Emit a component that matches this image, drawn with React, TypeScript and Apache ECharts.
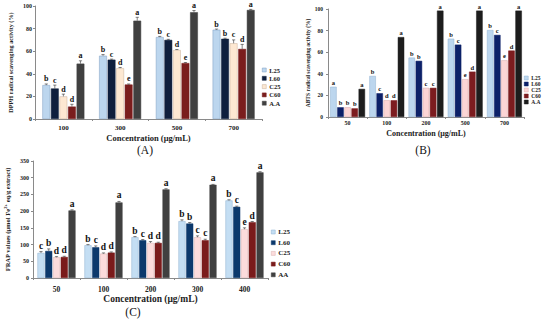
import React, { useEffect, useRef } from 'react';
import * as echarts from 'echarts';

const FONT = "'Liberation Serif', 'Times New Roman', serif";

// ---------- Panel A : DPPH ----------
const dpphCategories = ['100', '300', '500', '700'];
const dpphNames = ['L25', 'L60', 'C25', 'C60', 'A.A'];
const dpphL25 = [30, 56, 72.5, 79];
const dpphL60 = [27, 52.5, 70, 71];
const dpphC25 = [20, 45, 61, 67];
const dpphC60 = [11, 30.5, 49.5, 62];
const dpphAA = [49, 87, 94.5, 96.5];
const dpphErrL25 = [1, 1, 0.6, 0.6];
const dpphErrL60 = [3, 0.5, 0.5, 0.5];
const dpphErrC25 = [2, 0.6, 0.5, 3];
const dpphErrC60 = [2, 0.5, 0.5, 4];
const dpphErrAA = [2.5, 3, 1.5, 0.5];
const dpphLetL25 = ['b', 'b', 'b', 'b'];
const dpphLetL60 = ['c', 'c', 'c', 'b'];
const dpphLetC25 = ['d', 'd', 'd', 'c'];
const dpphLetC60 = ['d', 'e', 'e', 'd'];
const dpphLetAA = ['a', 'a', 'a', 'a'];

// ---------- Panel B : ABTS ----------
const abtsCategories = ['50', '100', '200', '500', '700'];
const abtsNames = ['L25', 'L60', 'C25', 'C60', 'A.A'];
const abtsL25 = [28, 38, 55, 72.5, 80.5];
const abtsL60 = [9, 22, 52, 67, 76];
const abtsC25 = [9, 15.5, 27, 35, 52.5];
const abtsC60 = [8, 15.5, 27, 42, 61.5];
const abtsAA = [26, 74, 98.5, 98.5, 98.5];
const abtsErr = [0, 0, 0, 0, 0];
const abtsLetL25 = ['a', 'b', 'b', 'b', 'b'];
const abtsLetL60 = ['b', 'c', 'b', 'c', 'c'];
const abtsLetC25 = ['b', 'd', 'c', 'e', 'e'];
const abtsLetC60 = ['b', 'd', 'c', 'd', 'd'];
const abtsLetAA = ['a', 'a', 'a', 'a', 'a'];

// ---------- Panel C : FRAP ----------
const frapCategories = ['50', '100', '200', '300', '400'];
const frapNames = ['L25', 'L60', 'C25', 'C60', 'AA'];
const frapL25 = [75, 98, 122, 170, 232];
const frapL60 = [81, 92, 113, 163, 213];
const frapC25 = [62, 73, 105, 122, 146];
const frapC60 = [63, 76, 105, 113, 167];
const frapAA = [202, 226, 265, 279, 316];
const frapErrL25 = [4, 2, 2, 4, 2];
const frapErrL60 = [6, 4, 2, 3, 2];
const frapErrC25 = [2, 2, 4, 4, 4];
const frapErrC60 = [2, 2, 2, 3, 2];
const frapErrAA = [2, 3, 2, 1, 2];
const frapLetL25 = ['c', 'b', 'b', 'b', 'b'];
const frapLetL60 = ['b', 'c', 'c', 'b', 'c'];
const frapLetC25 = ['d', 'd', 'd', 'c', 'e'];
const frapLetC60 = ['d', 'd', 'd', 'c', 'd'];
const frapLetAA = ['a', 'a', 'a', 'a', 'a'];

// styles
const colorsA = ['#bcd6ee', '#0f1f3d', '#fde8d2', '#7a1d1d', '#404040'];
const colorsB = ['#bcd6ee', '#0c2068', '#fbd5d5', '#7c1c1f', '#1d1d1d'];
const colorsC = ['#c4def3', '#0c396c', '#fcdcdc', '#7a1b1b', '#404040'];
const bordersA = ['#7f9fc0', '#0f1f3d', '#c8b09a', '#7a1d1d', '#404040'];
const bordersB = ['#8fb0d0', '#0c2068', '#d8a8a8', '#7c1c1f', '#1d1d1d'];
const bordersC = ['#8fb0d0', '#0c396c', '#d8b0b0', '#7a1b1b', '#404040'];

const BAR_GAP = 0.1;

function buildSeries(
  grid: number,
  names: string[],
  values: number[][],
  errors: number[][],
  letters: string[][],
  colors: string[],
  borders: string[],
  gapFrac: number,
  letterSize: number
) {
  const out: any[] = [];
  const n = names.length;
  values.forEach((vals, k) => {
    out.push({
      type: 'bar',
      name: names[k],
      xAxisIndex: grid,
      yAxisIndex: grid,
      data: vals,
      barCategoryGap: gapFrac * 100 + '%',
      barGap: BAR_GAP * 100 + '%',
      itemStyle: { color: colors[k], borderColor: borders[k], borderWidth: 0.5 },
      z: 2,
    });
  });
  values.forEach((vals, k) => {
    const err = errors[k];
    const lets = letters[k];
    out.push({
      type: 'custom',
      xAxisIndex: grid,
      yAxisIndex: grid,
      silent: true,
      z: 5,
      encode: { x: 0, y: 1 },
      data: vals.map((v, i) => [i, v]),
      renderItem: (params: any, api: any) => {
        const i = api.value(0);
        const v = api.value(1);
        const e = err[i] || 0;
        const base = api.coord([i, 0]);
        const cw = api.size([1, 0])[0];
        const usable = cw * (1 - gapFrac);
        const bw = usable / (n + (n - 1) * BAR_GAP);
        const x = base[0] - usable / 2 + k * bw * (1 + BAR_GAP) + bw / 2;
        const yTop = api.coord([i, v])[1];
        const yErr = api.coord([i, v + e])[1];
        const children: any[] = [];
        if (e > 0) {
          children.push({
            type: 'line',
            shape: { x1: x, y1: yTop, x2: x, y2: yErr },
            style: { stroke: '#333', lineWidth: 0.6 },
          });
          children.push({
            type: 'line',
            shape: { x1: x - 1.6, y1: yErr, x2: x + 1.6, y2: yErr },
            style: { stroke: '#333', lineWidth: 0.6 },
          });
        }
        children.push({
          type: 'text',
          x,
          y: yErr - 1,
          style: {
            text: lets[i],
            align: 'center',
            verticalAlign: 'bottom',
            fontSize: letterSize,
            fontWeight: 'bold',
            fontFamily: FONT,
            fill: '#111',
          },
        });
        return { type: 'group', children };
      },
    });
  });
  return out;
}

function legendFor(names: string[], colors: string[], borders: string[], left: number, top: number, fontSize: number, lineHeight: number, gap: number) {
  return {
    orient: 'vertical',
    left,
    top,
    padding: 0,
    itemGap: gap,
    itemWidth: 4,
    itemHeight: 4,
    icon: 'rect',
    selectedMode: false,
    data: names.map((nm, i) => ({
      name: nm,
      itemStyle: { color: colors[i], borderColor: borders[i], borderWidth: 0.5 },
    })),
    textStyle: { fontSize, lineHeight, fontWeight: 'bold', fontFamily: FONT, color: '#222', padding: [0, 0, 0, -2] },
  };
}

const axisLineStyle = { show: true, lineStyle: { color: '#8a8a8a', width: 1 } };

function xAxisFor(grid: number, cats: string[], labelSize: number, labelMargin: number, nameSize: number, nameGap: number) {
  return {
    gridIndex: grid,
    type: 'category',
    data: cats,
    name: 'Concentration (μg/mL)',
    nameLocation: 'middle',
    nameGap,
    nameTextStyle: { fontSize: nameSize, fontWeight: 'bold', fontFamily: FONT, color: '#222' },
    axisLine: axisLineStyle,
    axisTick: { show: true, length: 2, lineStyle: { color: '#8a8a8a' } },
    axisLabel: { fontSize: labelSize, margin: labelMargin, fontWeight: 'bold', fontFamily: FONT, color: '#222' },
    splitLine: { show: false },
  };
}

function yAxisFor(grid: number, max: number, interval: number, name: string, nameSize: number, nameGap: number, labelSize: number, labelMargin: number, rich?: any) {
  return {
    gridIndex: grid,
    type: 'value',
    min: 0,
    max,
    interval,
    name,
    nameLocation: 'middle',
    nameGap,
    nameTextStyle: { fontSize: nameSize, fontWeight: 'bold', fontFamily: FONT, color: '#222', rich },
    axisLine: axisLineStyle,
    axisTick: { show: true, length: 2, lineStyle: { color: '#8a8a8a' } },
    axisLabel: { fontSize: labelSize, margin: labelMargin, fontWeight: 'bold', fontFamily: FONT, color: '#222' },
    splitLine: { show: false },
  };
}

export default function App() {
  const ref = useRef<HTMLDivElement>(null);
  useEffect(() => {
    if (!ref.current) return;
    const chart = echarts.init(ref.current, undefined, { renderer: 'svg' });
    const series = [
      ...buildSeries(
        0,
        dpphNames,
        [dpphL25, dpphL60, dpphC25, dpphC60, dpphAA],
        [dpphErrL25, dpphErrL60, dpphErrC25, dpphErrC60, dpphErrAA],
        [dpphLetL25, dpphLetL60, dpphLetC25, dpphLetC60, dpphLetAA],
        colorsA,
        bordersA,
        0.26,
        8
      ),
      ...buildSeries(
        1,
        abtsNames,
        [abtsL25, abtsL60, abtsC25, abtsC60, abtsAA],
        [abtsErr, abtsErr, abtsErr, abtsErr, abtsErr],
        [abtsLetL25, abtsLetL60, abtsLetC25, abtsLetC60, abtsLetAA],
        colorsB,
        bordersB,
        0.11,
        6.5
      ),
      ...buildSeries(
        2,
        frapNames,
        [frapL25, frapL60, frapC25, frapC60, frapAA],
        [frapErrL25, frapErrL60, frapErrC25, frapErrC60, frapErrAA],
        [frapLetL25, frapLetL60, frapLetC25, frapLetC60, frapLetAA],
        colorsC,
        bordersC,
        0.19,
        9.5
      ),
    ];
    chart.setOption({
      animation: false,
      backgroundColor: '#ffffff',
      textStyle: { fontFamily: FONT },
      grid: [
        { left: 35, top: 6, width: 227, height: 113 },
        { left: 328, top: 9, width: 196, height: 108 },
        { left: 33, top: 161, width: 235, height: 117 },
      ],
      xAxis: [
        xAxisFor(0, dpphCategories, 7, 5, 8.5, 14),
        xAxisFor(1, abtsCategories, 6, 3, 8, 12),
        xAxisFor(2, frapCategories, 7.5, 7, 9.5, 13),
      ],
      yAxis: [
        yAxisFor(0, 100, 20, 'DPPH radical scavenging activity (%)', 6.2, 22, 6, 3),
        yAxisFor(1, 100, 20, 'ABTS radical scavenging activity (%)', 5.5, 17, 5.5, 5),
        yAxisFor(2, 350, 50, 'FRAP values (μmol Fe{sup|2+} eq/g extract)', 6.5, 22, 6, 4, {
          sup: { fontSize: 4.5, fontWeight: 'bold', fontFamily: FONT, color: '#222', verticalAlign: 'top', padding: [0, 0, 3, 0] },
        }),
      ],
      legend: [
        legendFor(dpphNames, colorsA, bordersA, 262, 66, 6.5, 8, 0.3),
        legendFor(abtsNames, colorsB, bordersB, 524, 75, 5.5, 6, 0),
        legendFor(frapNames, colorsC, bordersC, 271, 227, 7, 10, 0.7),
      ],
      graphic: [
        { type: 'text', x: 145, y: 150, style: { text: '(A)', fontSize: 11.5, fontFamily: FONT, fill: '#111', align: 'center', verticalAlign: 'middle' } },
        { type: 'text', x: 423, y: 150, style: { text: '(B)', fontSize: 11.5, fontFamily: FONT, fill: '#111', align: 'center', verticalAlign: 'middle' } },
        { type: 'text', x: 133, y: 312, style: { text: '(C)', fontSize: 11.5, fontFamily: FONT, fill: '#111', align: 'center', verticalAlign: 'middle' } },
      ],
      series,
    });
    return () => chart.dispose();
  }, []);
  return <div ref={ref} style={{ position: 'fixed', left: 0, top: 0, width: 550, height: 320, background: '#fff' }} />;
}
